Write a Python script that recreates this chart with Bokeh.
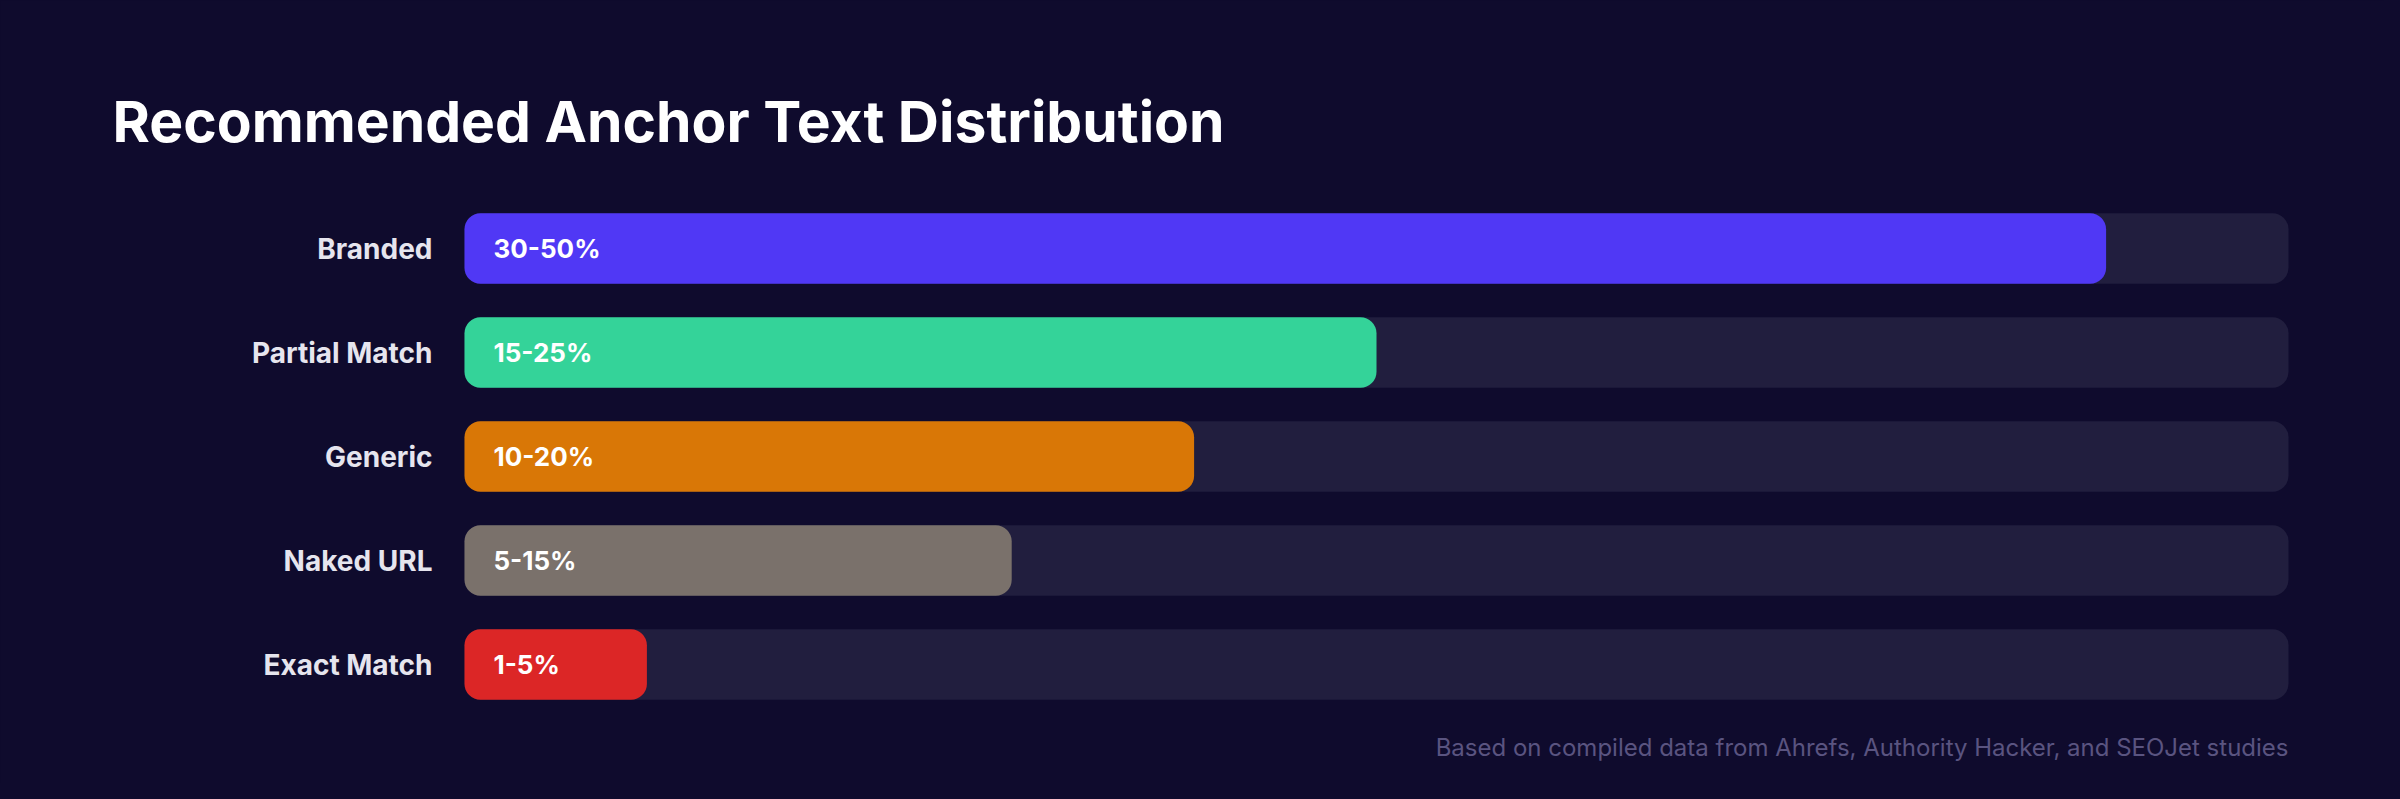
from bokeh.plotting import figure
from bokeh.models import Range1d
from bokeh.core.properties import value
from bokeh.embed import file_html
from bokeh.resources import INLINE

categories = ["Branded", "Partial Match", "Generic", "Naked URL", "Exact Match"]
bar_values = [90, 50, 40, 30, 10]
range_labels = ["30-50%", "15-25%", "10-20%", "5-15%", "1-5%"]
colors = ["#5038F5", "#34D399", "#D97706", "#7A716B", "#DC2626"]
title_text = "Recommended Anchor Text Distribution"
footnote_text = "Based on compiled data from Ahrefs, Authority Hacker, and SEOJet studies"

BG = "#0F0B2D"
TRACK = "#211E3E"
FONT = "Inter"

W, H = 2384, 783
LEFT, TRACK_W = 464, 1824          # frame pixel geometry of the track area
ROW_PX, FIRST_CENTER = 104, 248    # row pitch and first row centre (px from top)
px_per_x = TRACK_W / 100.0
n = len(categories)
rows = [n - i for i in range(n)]   # Branded at top

x0 = -LEFT / px_per_x
x1 = (W - LEFT) / px_per_x
y_top = n + FIRST_CENTER / ROW_PX
y_bot = n - (H - FIRST_CENTER) / ROW_PX

p = figure(
    width=W, height=H,
    x_range=Range1d(x0, x1), y_range=Range1d(y_bot, y_top),
    output_backend="svg", toolbar_location=None,
    min_border=0, min_border_left=0, min_border_right=0,
    min_border_top=0, min_border_bottom=0,
    background_fill_color=BG, border_fill_color=BG,
    outline_line_color=None,
)
p.grid.visible = False
p.axis.visible = False

bar_h = 70.5 / ROW_PX

# background tracks
p.hbar(y=rows, left=0, right=[100] * n, height=bar_h,
       fill_color=TRACK, line_color=None, border_radius=16)
# value bars
p.hbar(y=rows, left=0, right=bar_values, height=bar_h,
       fill_color=colors, line_color=None, border_radius=16)
# value labels inside bars
p.text(x=[0] * n, y=rows, text=range_labels,
       x_offset=29, text_baseline="middle", text_align="left",
       text_font=value(FONT), text_font_size="26px", text_font_style="bold",
       text_color="#FFFFFF")
# category labels
p.text(x=[0] * n, y=rows, text=categories,
       x_offset=-32, text_baseline="middle", text_align="right",
       text_font=value(FONT), text_font_size="28px", text_font_style="bold",
       text_color="#E6E5EE")

# title
p.text(x=[(112 - LEFT) / px_per_x], y=[n + (FIRST_CENTER - 121) / ROW_PX],
       text=[title_text], text_baseline="alphabetic", text_align="left",
       text_font=value(FONT), text_font_size="57px", text_font_style="bold",
       text_color="#FFFFFF")
# footnote
p.text(x=[100], y=[n - (747 - FIRST_CENTER) / ROW_PX],
       text=[footnote_text], text_baseline="alphabetic", text_align="right",
       text_font=value(FONT), text_font_size="24px",
       text_color="#5A5480")

html = file_html(p, INLINE)
html = html.replace("<head>", "<head><style>html,body{background:%s;}</style>" % BG, 1)
open("out.html", "w").write(html)
